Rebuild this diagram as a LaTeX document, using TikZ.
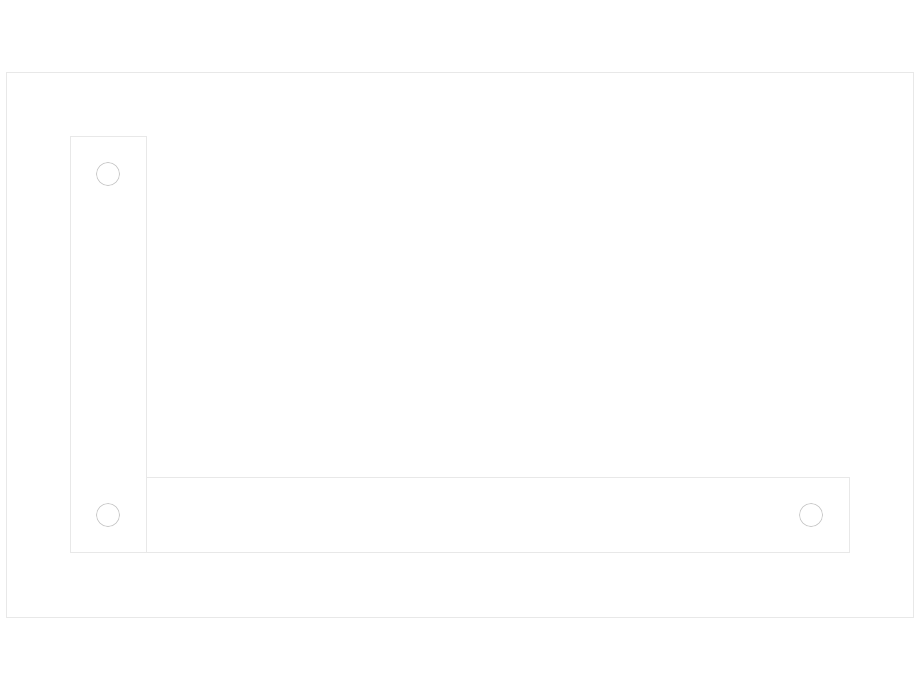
\documentclass[tikz,border=0pt]{standalone}
\begin{document}
\begin{tikzpicture}[x=1pt,y=-1pt,
  frame/.style={draw=black!9,line width=0.8pt},
  bar/.style={draw=black!9,fill=white,line width=0.8pt},
  hole/.style={draw=black!22,line width=0.7pt}]
\useasboundingbox[fill=white] (0,0) rectangle (920,690);
\draw[frame,fill=white] (6,72) rectangle (913,617);
\draw[bar] (146,477) rectangle (849,552);
\draw[bar] (70,136) rectangle (146,552);
\draw[hole] (108,174) circle (11.5);
\draw[hole] (108,515) circle (11.5);
\draw[hole] (811,515) circle (11.5);
\end{tikzpicture}
\end{document}
